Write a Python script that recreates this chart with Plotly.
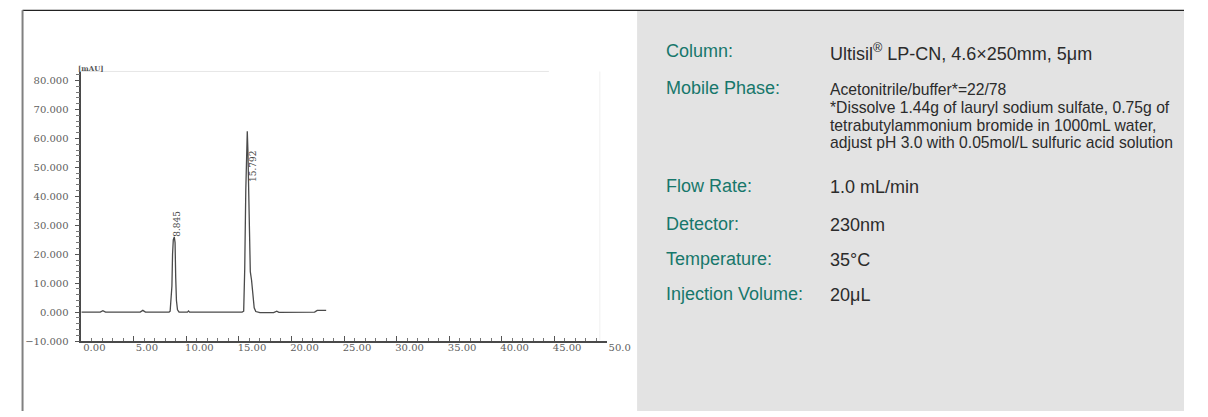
import plotly.graph_objects as go

# Chromatogram trace: retention time (min) and detector signal (mAU)
time_min = [0, 1.8, 2.05, 2.3, 5.6, 5.85, 6.1, 8.35,
            8.45, 8.55, 8.62, 8.68, 8.75, 8.845, 8.92, 8.98, 9.05, 9.15, 9.3,
            10.1, 10.2, 10.3, 15.3,
            15.45, 15.55, 15.65, 15.72, 15.792, 15.85, 15.92, 16.0, 16.08,
            16.2, 16.32, 16.45, 16.6, 17.0, 18.3, 18.6, 18.8, 20.5, 22.2,
            22.45, 23.3]
signal_mau = [0, 0, 0.5, 0, 0, 0.6, 0, 0,
              0.3, 6, 9, 20, 25, 26, 24, 12, 4, 0.8, 0,
              0, 0.4, 0, 0,
              0.3, 15, 42, 57, 62.5, 56, 40, 22, 14,
              11, 5, 1.5, 0.2, -0.2, -0.2, 0.3, -0.1, -0.1, 0,
              0.6, 0.6]

# Peak retention-time labels
peak_times = [8.845, 15.792]
peak_labels = ["8.845", "15.792"]

# Axis ticks
y_ticks = [-10, 0, 10, 20, 30, 40, 50, 60, 70, 80]
y_tick_text = ["\u221210.000", "0.000", "10.000", "20.000", "30.000",
               "40.000", "50.000", "60.000", "70.000", "80.000"]
x_ticks = [0, 5, 10, 15, 20, 25, 30, 35, 40, 45, 50]
x_tick_text = ["0.00", "5.00", "10.00", "15.00", "20.00", "25.00",
               "30.00", "35.00", "40.00", "45.00", "50.0"]

# Method conditions
cond_names = ["Column:", "Mobile Phase:", "Flow Rate:", "Detector:",
              "Temperature:", "Injection Volume:"]
cond_values = ["Ultisil<sup>\u00ae</sup> LP-CN, 4.6\u00d7250mm, 5\u03bcm", None,
               "1.0 mL/min", "230nm", "35\u00b0C", "20\u03bcL"]
mobile_phase_lines = [
    "Acetonitrile/buffer*=22/78",
    "*Dissolve 1.44g of lauryl sodium sulfate, 0.75g of",
    "tetrabutylammonium bromide in 1000mL water,",
    "adjust pH 3.0 with 0.05mol/L sulfuric acid solution",
]

W, H = 1208, 417


def px_x(p):
    return p / W


def px_y(p):
    return 1 - p / H


fig = go.Figure()
fig.add_trace(go.Scatter(
    x=time_min, y=signal_mau, mode="lines",
    line=dict(color="#4a4a4a", width=1.3),
    hoverinfo="skip", showlegend=False,
))

axis_font = dict(family="DejaVu Serif", size=10, color="#606060")

fig.update_layout(
    width=W, height=H,
    margin=dict(l=0, r=0, t=0, b=0),
    paper_bgcolor="white", plot_bgcolor="white",
    showlegend=False,
    xaxis=dict(
        domain=[px_x(83), px_x(619)], range=[0, 50],
        showgrid=False, zeroline=False,
        showline=True, linecolor="#4a4a4a", linewidth=2,
        tickvals=x_ticks, ticktext=x_tick_text,
        ticks="inside", ticklen=5, tickcolor="#555555", tickwidth=1,
        minor=dict(dtick=1, ticks="inside", ticklen=3, tickcolor="#777777"),
        tickfont=axis_font, ticklabelshift=13, ticklabelstandoff=-4,
        fixedrange=True,
    ),
    yaxis=dict(
        domain=[px_y(346), px_y(73)], range=[-10, 83],
        showgrid=False, zeroline=False,
        showline=True, linecolor="#4a4a4a", linewidth=1.5,
        tickvals=y_ticks, ticktext=y_tick_text,
        ticks="outside", ticklen=5, tickcolor="#555555", tickwidth=1,
        minor=dict(dtick=2, ticks="outside", ticklen=4, tickcolor="#777777"),
        tickfont=axis_font, ticklabelstandoff=4,
        fixedrange=True,
    ),
)

shapes = [
    # grey conditions panel
    dict(type="rect", xref="paper", yref="paper",
         x0=px_x(650), x1=1, y0=0, y1=px_y(10.5),
         fillcolor="#e3e3e3", line=dict(width=0), layer="below"),
    # top rule
    dict(type="line", xref="paper", yref="paper",
         x0=px_x(23), x1=1, y0=px_y(10.5), y1=px_y(10.5),
         line=dict(color="#222222", width=1.2)),
    # left rule
    dict(type="line", xref="paper", yref="paper",
         x0=px_x(23), x1=px_x(23), y0=0, y1=px_y(10.5),
         line=dict(color="#808080", width=2)),
    # faint plot frame (top and right)
    dict(type="line", xref="paper", yref="paper",
         x0=px_x(83), x1=px_x(560), y0=px_y(72.5), y1=px_y(72.5),
         line=dict(color="#e6e6e6", width=1)),
    dict(type="line", xref="paper", yref="paper",
         x0=px_x(612), x1=px_x(612), y0=px_y(345), y1=px_y(72.5),
         line=dict(color="#f0f0f0", width=1)),
]
fig.update_layout(shapes=shapes)

annotations = [
    dict(xref="paper", yref="paper", x=px_x(78), y=px_y(69),
         text="<b>[mAU]</b>", showarrow=False, xanchor="left", yanchor="middle",
         font=dict(family="DejaVu Serif", size=7, color="#555555")),
]

# label centres (time offset, signal level) beside each peak
label_offsets = [(0.25, 30.5), (0.55, 50.5)]
for t, lab, (dt, ly) in zip(peak_times, peak_labels, label_offsets):
    annotations.append(dict(
        x=t + dt, y=ly, xref="x", yref="y", text=lab, showarrow=False,
        textangle=-90, xanchor="center", yanchor="middle",
        font=dict(family="DejaVu Serif", size=9, color="#444444"),
    ))

label_color = "#17776b"
value_color = "#2b2b2b"
row_y = [52, 89, 189, 227, 263, 298]
for name, val, yy in zip(cond_names, cond_values, row_y):
    annotations.append(dict(
        xref="paper", yref="paper", x=px_x(677), y=px_y(yy), text=name,
        showarrow=False, xanchor="left", yanchor="middle",
        font=dict(family="Liberation Sans", size=18, color=label_color)))
    if val is not None:
        annotations.append(dict(
            xref="paper", yref="paper", x=px_x(845), y=px_y(yy + 1), text=val,
            showarrow=False, xanchor="left", yanchor="middle",
            font=dict(family="Liberation Sans", size=18, color=value_color)))

for i, line_text in enumerate(mobile_phase_lines):
    annotations.append(dict(
        xref="paper", yref="paper", x=px_x(845), y=px_y(91 + 18 * i),
        text=line_text, showarrow=False, xanchor="left", yanchor="middle",
        font=dict(family="Liberation Sans", size=15.7, color=value_color)))

fig.update_layout(annotations=annotations)

page_css = ("document.documentElement.style.margin='0';"
            "document.documentElement.style.overflow='hidden';"
            "document.body.style.margin='0';"
            "document.body.style.overflow='hidden';")
fig.write_html("out.html", post_script=page_css)
